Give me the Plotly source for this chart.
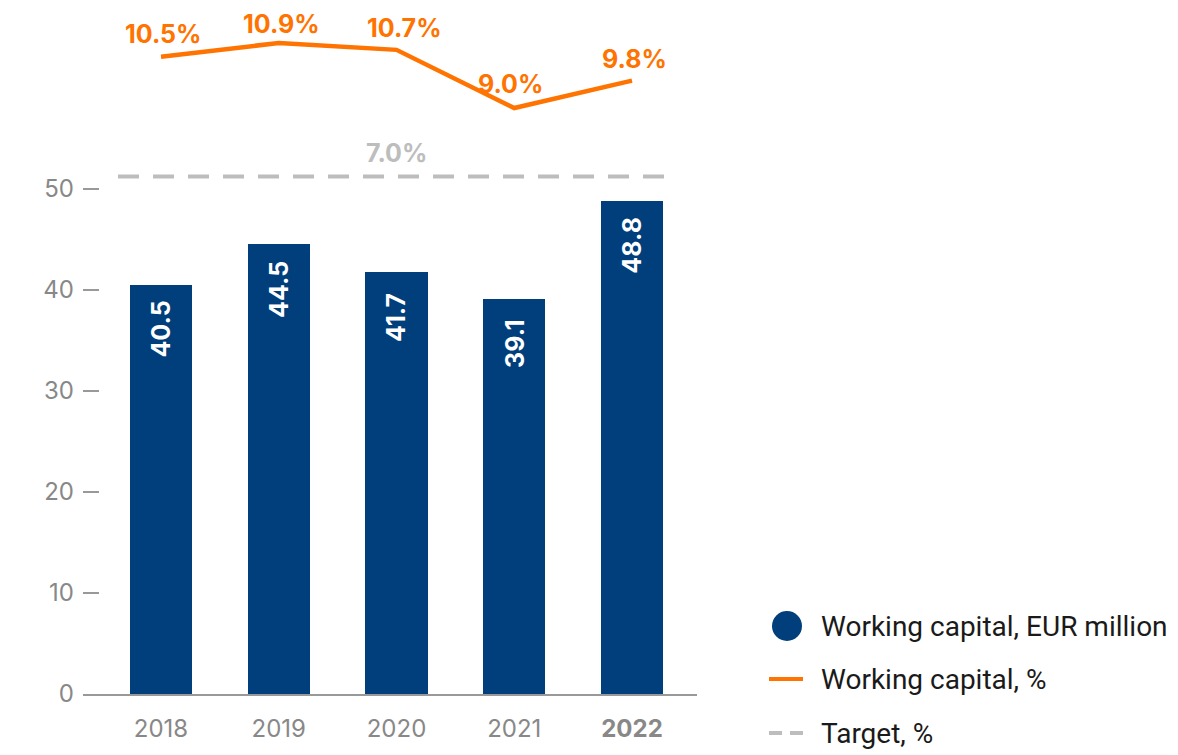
import plotly.graph_objects as go

# ---- data ----
years = ["2018", "2019", "2020", "2021", "2022"]
wc_eur_million = [40.5, 44.5, 41.7, 39.1, 48.8]
wc_percent = [10.5, 10.9, 10.7, 9.0, 9.8]
target_percent = 7.0
y_tick_values = [0, 10, 20, 30, 40, 50]
legend_labels = ["Working capital, EUR million", "Working capital, %", "Target, %"]

# ---- styles ----
NAVY = "#003E7C"
ORANGE = "#FF7300"
TARGET_GRAY = "#BDBDBD"
AXIS_GRAY = "#999999"
TICK_GRAY = "#888888"
FONT = "Inter"
LEGEND_FONT = "Roboto"

OFF = 8  # default body margin of the html page
W, H = 1178 - OFF, 755 - OFF
ML, MR, MT, MB = 75, 481, 2, 61
PW, PH = W - ML - MR, H - MT - MB

xs = list(range(len(years)))
x_range = [-0.6624, 4.552]
y_range = [0, 67.66]
y2_range = [-8.13, 11.865]

fig = go.Figure()

fig.add_trace(go.Bar(
    x=xs, y=wc_eur_million, width=0.527, marker=dict(color=NAVY, line=dict(width=0)),
    showlegend=False, hoverinfo="skip"))

fig.add_trace(go.Scatter(
    x=[-0.365, 4.306], y=[target_percent, target_percent], yaxis="y2", mode="lines",
    line=dict(color=TARGET_GRAY, width=4, dash="21px,14px"), showlegend=False, hoverinfo="skip"))

fig.add_trace(go.Scatter(
    x=xs, y=wc_percent, yaxis="y2", mode="lines",
    line=dict(color=ORANGE, width=4.5), showlegend=False, hoverinfo="skip"))

annotations = []
pct_xshift = [2, 3, 8, -4, 2]
pct_yshift = [23, 19, 22, 24, 22]
for x, v, dx, dy in zip(xs, wc_percent, pct_xshift, pct_yshift):
    annotations.append(dict(
        x=x, y=v, xref="x", yref="y2", text=f"{v:.1f}%", showarrow=False,
        xanchor="center", yanchor="middle", yshift=dy, xshift=dx, borderpad=0,
        font=dict(family=FONT, size=25, color=ORANGE, weight=700)))

annotations.append(dict(
    x=2, y=target_percent, xref="x", yref="y2", text=f"{target_percent:.1f}%", showarrow=False,
    xanchor="center", yanchor="middle", yshift=23, borderpad=0,
    font=dict(family=FONT, size=25, color=TARGET_GRAY, weight=700)))

for x, v in zip(xs, wc_eur_million):
    annotations.append(dict(
        x=x, y=v, xref="x", yref="y", text=f"{v:.1f}", showarrow=False, textangle=-90,
        xanchor="center", yanchor="middle", yshift=-45,
        font=dict(family=FONT, size=25, color="white", weight=700)))

# ---- manual legend (screen pixel layout converted to paper coords) ----
def px_x(px):
    return (px - OFF - ML) / PW

def px_y(py):
    return (H - MB - (py - OFF)) / PH

legend_rows = [626, 679, 733]
shapes = []
shapes.append(dict(type="circle", xref="paper", yref="paper",
                   x0=px_x(772), x1=px_x(802), y0=px_y(641), y1=px_y(611),
                   fillcolor=NAVY, line=dict(width=0)))
shapes.append(dict(type="line", xref="paper", yref="paper",
                   x0=px_x(769), x1=px_x(803), y0=px_y(legend_rows[1]), y1=px_y(legend_rows[1]),
                   line=dict(color=ORANGE, width=4)))
for a, b in [(769, 782), (790, 803)]:
    shapes.append(dict(type="line", xref="paper", yref="paper",
                       x0=px_x(a), x1=px_x(b), y0=px_y(legend_rows[2]), y1=px_y(legend_rows[2]),
                       line=dict(color=TARGET_GRAY, width=4)))

for label, row in zip(legend_labels, legend_rows):
    annotations.append(dict(
        x=px_x(819), y=px_y(row), xref="paper", yref="paper", text=label, showarrow=False,
        xanchor="left", yanchor="middle",
        font=dict(family=LEGEND_FONT, size=28, color="#1a1a1a")))

tick_text = [f"<b>{y}</b>" if i == len(years) - 1 else y for i, y in enumerate(years)]

fig.update_layout(
    width=W, height=H,
    margin=dict(l=ML, r=MR, t=MT, b=MB, pad=0),
    paper_bgcolor="white", plot_bgcolor="white",
    showlegend=False,
    bargap=0,
    xaxis=dict(range=x_range, tickmode="array", tickvals=xs, ticktext=tick_text,
               showgrid=False, zeroline=False, showline=True, linecolor=AXIS_GRAY, linewidth=2,
               ticks="", ticklabelstandoff=12,
               tickfont=dict(family=FONT, size=24, color=TICK_GRAY), fixedrange=True),
    yaxis=dict(range=y_range, tickmode="array", tickvals=y_tick_values,
               showgrid=False, zeroline=False, showline=False,
               ticks="inside", ticklen=16, tickwidth=1.5, tickcolor=AXIS_GRAY,
               ticklabelstandoff=8,
               tickfont=dict(family=FONT, size=24, color=TICK_GRAY), fixedrange=True),
    yaxis2=dict(range=y2_range, overlaying="y", side="right", visible=False, fixedrange=True),
    annotations=annotations,
    shapes=shapes,
)

fig.write_html("out.html")
